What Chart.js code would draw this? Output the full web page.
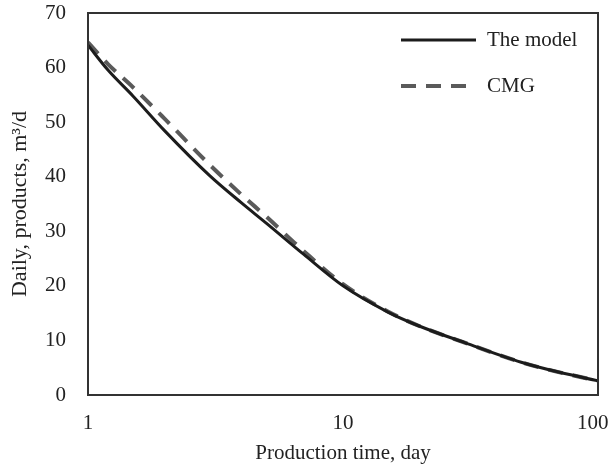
<!DOCTYPE html>
<html>
<head>
<meta charset="utf-8">
<script src="https://cdn.jsdelivr.net/npm/chart.js@4"></script>
<style>
  html, body { margin: 0; padding: 0; background: #fff; }
  #wrap { width: 611px; height: 469px; }
</style>
</head>
<body>
<div id="wrap"><canvas id="chart" width="611" height="469"></canvas></div>
<script>
const days = [1, 1.2, 1.5, 2, 3, 4, 5, 7, 10, 15, 20, 30, 50, 70, 100];
const modelRate = [64.1, 59.5, 54.8, 48.4, 40.2, 35.2, 31.5, 25.8, 20.0, 15.2, 12.6, 9.6, 6.0, 4.2, 2.6];
const cmgRate = [64.6, 60.6, 56.4, 50.6, 42.2, 36.7, 32.7, 26.4, 20.3, 15.3, 12.6, 9.6, 6.0, 4.2, 2.6];
const xTicks = [1, 10, 100];
const seriesNames = ['The model', 'CMG'];

const serif = 'Liberation Serif, Times New Roman, serif';

const frame = {
  id: 'frame',
  afterDraw(chart) {
    const { ctx, chartArea: a } = chart;
    ctx.save();
    ctx.strokeStyle = '#333';
    ctx.lineWidth = 2;
    ctx.strokeRect(a.left, a.top, a.right - a.left, a.bottom - a.top);
    // legend in the top right corner
    ctx.font = '21px ' + serif;
    ctx.textBaseline = 'middle';
    ctx.fillStyle = '#222';
    chart.data.datasets.forEach((ds, i) => {
      const y = 40 + i * 46;
      ctx.strokeStyle = ds.borderColor;
      ctx.lineWidth = ds.borderWidth;
      ctx.setLineDash(ds.borderDash || []);
      ctx.beginPath();
      ctx.moveTo(401, y);
      ctx.lineTo(476, y);
      ctx.stroke();
      ctx.setLineDash([]);
      ctx.fillText(ds.label, 487, y);
    });
    ctx.restore();
  }
};

new Chart(document.getElementById('chart'), {
  type: 'line',
  data: {
    labels: days,
    datasets: [
      { label: seriesNames[0], data: days.map((d, i) => ({ x: d, y: modelRate[i] })), borderColor: '#1c1c1c', borderWidth: 3, pointRadius: 0, cubicInterpolationMode: 'monotone', fill: false },
      { label: seriesNames[1], data: days.map((d, i) => ({ x: d, y: cmgRate[i] })), borderColor: '#5a5a5a', borderWidth: 4, borderDash: [15, 10], pointRadius: 0, cubicInterpolationMode: 'monotone', fill: false },
    ],
  },
  options: {
    responsive: false,
    animation: false,
    layout: { padding: { left: 0, top: 13, right: 13, bottom: 0 } },
    plugins: { legend: { display: false }, tooltip: { enabled: false } },
    scales: {
      x: {
        type: 'logarithmic',
        min: 1,
        max: 100,
        afterBuildTicks(axis) { axis.ticks = xTicks.map((v) => ({ value: v })); },
        afterFit(axis) { axis.height = 74; axis.paddingLeft = 0; axis.paddingRight = 0; },
        grid: { display: false, drawTicks: false },
        border: { color: '#333', width: 2 },
        // the last label sits a little left of its tick, as in the source figure
        ticks: { color: '#222', font: { family: serif, size: 21 }, padding: 16, callback: (v) => (v === 100 ? '100  ' : String(v)), maxRotation: 0 },
        title: { display: true, text: 'Production time, day', color: '#222', font: { family: serif, size: 21 }, padding: { top: 0, bottom: 3 } },
      },
      y: {
        min: 0,
        max: 70,
        afterFit(axis) { axis.width = 88; axis.paddingTop = 0; axis.paddingBottom = 0; },
        grid: { display: false, drawTicks: false },
        border: { color: '#333', width: 2 },
        ticks: { stepSize: 10, color: '#222', font: { family: serif, size: 21 }, padding: 22 },
        title: { display: true, text: 'Daily, products, m³/d', color: '#222', font: { family: serif, size: 22 }, padding: { top: 7, bottom: 0 } },
      },
    },
  },
  plugins: [frame],
});
</script>
</body>
</html>
